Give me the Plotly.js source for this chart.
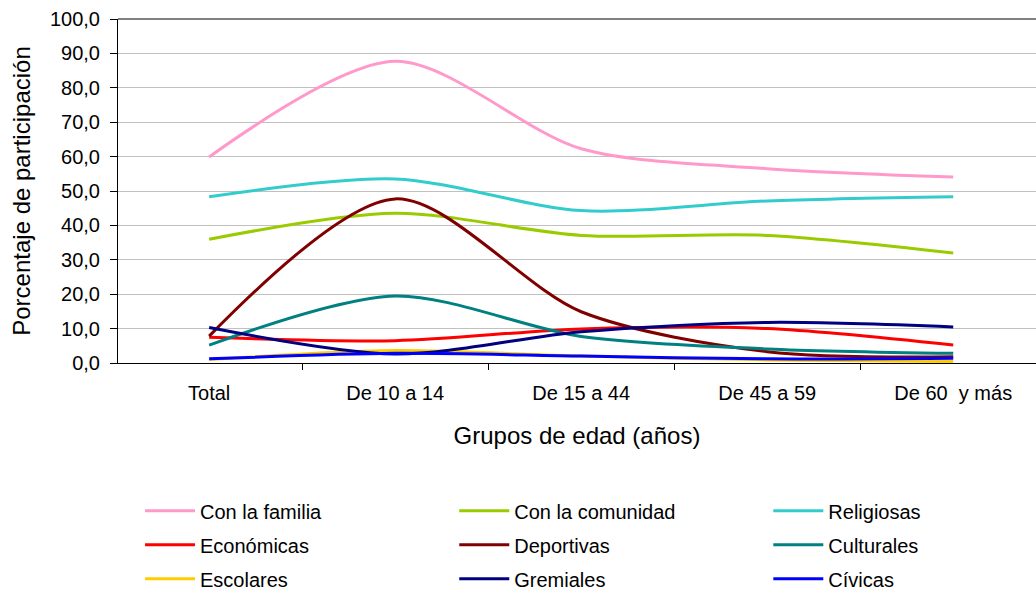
<!DOCTYPE html>
<html>
<head>
<meta charset="utf-8">
<script src="https://cdn.plot.ly/plotly-3.0.1.min.js"></script>
<style>
html, body { margin: 0; padding: 0; background: #ffffff; overflow: hidden; }
#chart { width: 1036px; height: 591px; }
</style>
</head>
<body>
<div id="chart"></div>
<script>
// Categories (x axis)
const categories = ['Total', 'De 10 a 14', 'De 15 a 44', 'De 45 a 59', 'De 60\u00a0 y más'];

// Series values (percentage of participation)
const conFamilia   = [59.9, 87.7, 62.3, 56.5, 54.1];
const conComunidad = [36.0, 43.5, 37.1, 37.1, 32.0];
const religiosas   = [48.3, 53.5, 44.3, 47.1, 48.3];
const economicas   = [7.5, 6.5, 9.9, 10.0, 5.2];
const deportivas   = [7.8, 47.7, 14.9, 3.3, 1.8];
const culturales   = [5.2, 19.5, 7.7, 4.1, 2.8];
const escolares    = [1.0, 3.6, 2.0, 0.9, 0.4];
const gremiales    = [10.3, 2.6, 9.1, 11.8, 10.5];
const civicas      = [1.2, 2.8, 2.0, 1.2, 1.4];

const seriesNames = ['Con la familia', 'Con la comunidad', 'Religiosas',
                     'Económicas', 'Deportivas', 'Culturales',
                     'Escolares', 'Gremiales', 'Cívicas'];
const seriesData = [conFamilia, conComunidad, religiosas,
                    economicas, deportivas, culturales,
                    escolares, gremiales, civicas];
const seriesColors = ['#FF99CC', '#99CC00', '#33CCCC',
                      '#FF0000', '#800000', '#008080',
                      '#FFCC00', '#000080', '#0000FF'];
const legendIds = ['legend', 'legend2', 'legend3'];

const FONT = '"Liberation Sans", Arial, sans-serif';

const traces = seriesNames.map((name, i) => ({
  type: 'scatter',
  mode: 'lines',
  name: name,
  x: categories,
  y: seriesData[i],
  line: { color: seriesColors[i], width: 3, shape: 'spline', smoothing: 0.85 },
  legend: legendIds[i % 3],
  legendgroup: 'g' + i,
  hoverinfo: 'x+y+name'
}));

function legendAt(x) {
  return {
    x: x, xanchor: 'left', xref: 'paper',
    y: -0.3727, yanchor: 'top', yref: 'paper',
    orientation: 'v',
    traceorder: 'grouped',
    tracegroupgap: 5,
    itemwidth: 50,
    bgcolor: 'rgba(0,0,0,0)',
    borderwidth: 0,
    font: { family: FONT, size: 20, color: '#000000' }
  };
}

const layout = {
  width: 1036,
  height: 591,
  margin: { l: 118, r: 0, t: 19, b: 228, autoexpand: false },
  paper_bgcolor: '#ffffff',
  plot_bgcolor: '#ffffff',
  separators: ',.',
  font: { family: FONT, size: 20, color: '#000000' },
  showlegend: true,
  legend: legendAt(0.024),
  legend2: legendAt(0.3663),
  legend3: legendAt(0.7084),
  xaxis: {
    type: 'category',
    range: [-0.49, 4.445],
    showgrid: false,
    zeroline: false,
    showline: true,
    linecolor: '#000000',
    linewidth: 1,
    ticks: 'outside',
    tickson: 'boundaries',
    ticklen: 6,
    tickcolor: '#000000',
    ticklabelstandoff: 12,
    tickfont: { family: FONT, size: 20, color: '#000000' },
    title: {
      text: 'Grupos de edad (años)',
      font: { family: FONT, size: 24, color: '#000000' },
      standoff: 24
    },
    fixedrange: true
  },
  yaxis: {
    range: [0, 100],
    dtick: 10,
    tick0: 0,
    tickformat: '.1f',
    showgrid: true,
    gridcolor: '#C0C0C0',
    gridwidth: 1,
    zeroline: false,
    showline: true,
    linecolor: '#000000',
    linewidth: 1,
    ticks: 'outside',
    ticklen: 7,
    tickcolor: '#000000',
    ticklabelstandoff: 6,
    tickfont: { family: FONT, size: 20, color: '#000000' },
    title: {
      text: 'Porcentaje de participación',
      font: { family: FONT, size: 24, color: '#000000' },
      standoff: 12
    },
    fixedrange: true
  },
  shapes: [{
    type: 'line', xref: 'paper', yref: 'paper',
    x0: 0, x1: 1, y0: 1, y1: 1,
    line: { color: '#808080', width: 2 }
  }]
};

Plotly.newPlot('chart', traces, layout, { displayModeBar: false, responsive: false });
</script>
</body>
</html>
